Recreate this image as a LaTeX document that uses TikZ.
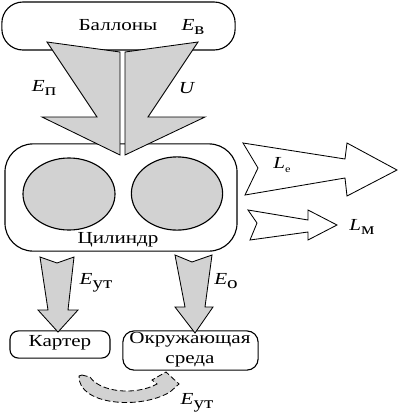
\documentclass[tikz,border=0pt]{standalone}
\usepackage{fontspec}
\setmainfont{Liberation Serif}
\usetikzlibrary{shapes.geometric}
\newcommand{\enq}[2]{\textit{#1}\raisebox{-0.45ex}{#2}}

\begin{document}
\begin{tikzpicture}[x=0.025cm, y=-0.025cm, line width=0.8pt,
    txt/.style={font=\fontsize{12}{14}\selectfont, xscale=1.25},
    box/.style={draw, rounded corners=#1, inner sep=0pt},
    flow/.style={draw, fill=gray!35, line width=0.6pt},
    work/.style={draw, fill=white, line width=0.6pt}]
            \useasboundingbox (0,0) rectangle (400,416);
            % boxes
            \node[box=15pt, minimum width=5.83cm, minimum height=1.2cm] at (118.5,26) (ball) {};
            \node[box=20pt, minimum width=5.8cm, minimum height=2.68cm] at (121,197.5) (cyl) {};
            \node[box=6pt, minimum width=2.5cm, minimum height=0.68cm] at (60,344.5) (kart) {};
            \node[box=8pt, minimum width=3.38cm, minimum height=0.98cm] at (190.5,350.5) (env) {};
            \node[ellipse, draw, fill=gray!35, minimum width=2.3cm, minimum height=1.8cm] at (69,194) (lcyl) {};
            \node[ellipse, draw, fill=gray!35, minimum width=2.28cm, minimum height=1.83cm] at (177,193.5) (rcyl) {};

            % texts
            \node[txt] at (118,25) (ballt) {Баллоны};
            \node[txt] at (193,27) (ev) {\enq{E}{в}};
            \node[txt] at (118,240) (cylt) {Цилиндр};
            \node[txt] at (60,343) (kartt) {Картер};
            \node[txt, align=center] at (190,350) (envt) {Окружающая\\среда};

            % flows in
            \draw[flow] (47,42) -- (120,52) -- (120,155) -- (42,117) -- (97,117) -- cycle;
            \draw[flow] (198,42) -- (125,52) -- (125,155) -- (205,117) -- (148,117) -- cycle;
            \node[txt] at (44,88) (ep) {\enq{E}{п}};
            \node[txt] at (187,88) (u) {\textit{U}};

            % work out
            \draw[work] (243,143) -- (345,159) -- (347,143) -- (397,170) -- (347,196) -- (345,178) -- (245,195) -- (258,168) -- cycle;
            \draw[work] (248,210) -- (308,220) -- (308,210) -- (337,225) -- (308,240) -- (308,232) -- (250,240) -- (257,223) -- cycle;
            \node[txt] at (282,165) (le) {\enq{L}{\scriptsize е}};
            \node[txt] at (362,227) (lm) {\enq{L}{м}};

            % losses
            \draw[flow] (40,257) -- (57,263) -- (74,257) -- (68,310) -- (78,310) -- (58,332) -- (38,310) -- (48,310) -- cycle;
            \draw[flow] (175,255) -- (192,262) -- (212,255) -- (205,307) -- (213,307) -- (195,333) -- (175,307) -- (185,307) -- cycle;
            \node[txt] at (96,283) (eut) {\enq{E}{ут}};
            \node[txt] at (226,281) (eo) {\enq{E}{о}};

            % crankcase to surroundings
            \draw[flow, dashed, dash pattern=on 4pt off 2pt] (82,375) -- (90,377) .. controls (100,392) and (135,396) .. (157,384) -- (152,380) -- (166,372) -- (179,384) -- (170,392) .. controls (140,410) and (78,405) .. (79,376) -- cycle;
            \node[txt] at (197,403) (eut2) {\enq{E}{ут}};
        \end{tikzpicture}
\end{document}
